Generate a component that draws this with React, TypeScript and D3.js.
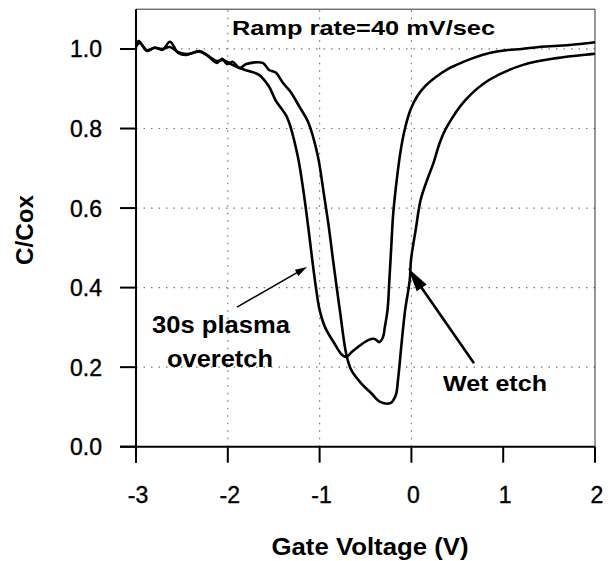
import React from "react";
import * as d3 from "d3";

const W = 612;
const H = 561;

// Gate voltage (V) / C/Cox for the 30s plasma overetch sample
const plasmaV = [-3.0, -2.97, -2.88, -2.8, -2.72, -2.63, -2.54, -2.45, -2.31, -2.23, -2.12, -2.05, -1.95, -1.87, -1.78, -1.66, -1.55, -1.48, -1.4, -1.35, -1.24, -1.17, -1.12, -1.08, -1.04, -1.0, -0.94, -0.84, -0.76, -0.71, -0.65, -0.58, -0.47, -0.4, -0.35, -0.31, -0.29, -0.26, -0.24, -0.22, -0.2, -0.17, -0.12, -0.07, -0.01, 0.06, 0.14, 0.27, 0.4, 0.49, 0.67, 0.85, 1.03, 1.2, 1.39, 1.6, 1.8, 2.0];
const plasmaC = [1.01, 1.02, 0.995, 1.003, 1.0, 1.005, 0.992, 0.987, 0.993, 0.985, 0.97, 0.972, 0.96, 0.952, 0.945, 0.935, 0.905, 0.871, 0.845, 0.826, 0.733, 0.633, 0.545, 0.47, 0.4, 0.344, 0.3, 0.26, 0.232, 0.226, 0.238, 0.251, 0.268, 0.271, 0.263, 0.275, 0.3, 0.344, 0.419, 0.5, 0.58, 0.65, 0.74, 0.8, 0.847, 0.88, 0.904, 0.93, 0.95, 0.96, 0.977, 0.99, 0.997, 1.0, 1.005, 1.008, 1.012, 1.017];

// Gate voltage (V) / C/Cox for the wet etch sample
const wetV = [-3.0, -2.96, -2.88, -2.79, -2.71, -2.63, -2.54, -2.45, -2.31, -2.23, -2.12, -2.06, -2.01, -1.95, -1.87, -1.8, -1.62, -1.55, -1.475, -1.4, -1.315, -1.22, -1.124, -1.021, -0.952, -0.903, -0.854, -0.78, -0.708, -0.656, -0.55, -0.44, -0.335, -0.225, -0.17, -0.146, -0.107, -0.068, -0.018, -0.004, 0.05, 0.1, 0.17, 0.24, 0.31, 0.386, 0.59, 0.845, 1.216, 1.58, 1.96, 2.0];
const wetC = [1.005, 1.015, 0.997, 1.003, 0.998, 1.018, 0.99, 0.985, 0.995, 0.985, 0.965, 0.975, 0.962, 0.968, 0.952, 0.962, 0.965, 0.947, 0.94, 0.915, 0.892, 0.855, 0.816, 0.733, 0.633, 0.558, 0.47, 0.344, 0.231, 0.193, 0.16, 0.135, 0.112, 0.11, 0.13, 0.168, 0.26, 0.344, 0.419, 0.47, 0.55, 0.62, 0.67, 0.713, 0.765, 0.804, 0.872, 0.922, 0.96, 0.977, 0.987, 0.988];

const xTicks = [-3, -2, -1, 0, 1, 2];
const yTicks = [0, 0.2, 0.4, 0.6, 0.8, 1.0];
const xGrid = [-2, -1, 0];
const yGrid = [0.2, 0.4, 0.6, 0.8, 1.0];

const x = d3.scaleLinear().domain([-3, 2]).range([136, 595]);
const y = d3.scaleLinear().domain([0, 1.1]).range([446.7, 9.2]);

const FONT = "'Liberation Sans', Arial, Helvetica, sans-serif";

function toPts(xs: number[], ys: number[]): [number, number][] {
  return xs.map((v, i) => [v, ys[i]] as [number, number]);
}

const line = d3
  .line<[number, number]>()
  .x((d) => x(d[0]))
  .y((d) => y(d[1]))
  .curve(d3.curveCatmullRom.alpha(0.5));

function Arrow({ x1, y1, x2, y2, width, headLen, headW }: any) {
  const px1 = x(x1), py1 = y(y1), px2 = x(x2), py2 = y(y2);
  const dx = px2 - px1, dy = py2 - py1;
  const L = Math.sqrt(dx * dx + dy * dy);
  const ux = dx / L, uy = dy / L;
  const bx = px2 - ux * headLen, by = py2 - uy * headLen;
  const nx = -uy, ny = ux;
  const head = `M${px2},${py2} L${bx + nx * headW},${by + ny * headW} L${bx - nx * headW},${by - ny * headW} Z`;
  return (
    <g>
      <line x1={px1} y1={py1} x2={bx + ux * 2} y2={by + uy * 2} stroke="#000" strokeWidth={width} />
      <path d={head} fill="#000" />
    </g>
  );
}

export default function App() {
  return (
    <svg width={W} height={H} style={{ position: "absolute", left: 0, top: 0, background: "#fff" }} fontFamily={FONT}>
      <rect x={0} y={0} width={W} height={H} fill="#fff" />
      {/* grid */}
      {xGrid.map((g) => (
        <line key={"xg" + g} x1={x(g)} x2={x(g)} y1={y(0)} y2={y(1.1)} stroke="#777" strokeWidth={1.2} strokeDasharray="1.5,6" />
      ))}
      {yGrid.map((g) => (
        <line key={"yg" + g} x1={x(-3)} x2={x(2)} y1={y(g)} y2={y(g)} stroke="#777" strokeWidth={1.2} strokeDasharray="1.5,6" />
      ))}
      {/* frame */}
      <line x1={x(-3)} x2={x(2)} y1={y(1.1)} y2={y(1.1)} stroke="#333" strokeWidth={1} />
      <line x1={x(2)} x2={x(2)} y1={y(1.1)} y2={y(0)} stroke="#333" strokeWidth={1} />
      <line x1={x(-3)} x2={x(-3)} y1={y(1.1)} y2={y(0) + 16} stroke="#000" strokeWidth={2} />
      <line x1={x(-3) - 16} x2={x(2)} y1={y(0)} y2={y(0)} stroke="#000" strokeWidth={2} />
      {/* ticks */}
      {xTicks.map((t) => (
        <g key={"xt" + t}>
          <line x1={x(t)} x2={x(t)} y1={y(0)} y2={y(0) + 16} stroke="#000" strokeWidth={2} />
          <text x={x(t) + 2} y={503} fontSize={23} textAnchor="middle" fill="#000" stroke="#000" strokeWidth={0.4}>
            {t}
          </text>
        </g>
      ))}
      {yTicks.map((t) => (
        <g key={"yt" + t}>
          <line x1={x(-3) - 16} x2={x(-3)} y1={y(t)} y2={y(t)} stroke="#000" strokeWidth={2} />
          <text x={102} y={y(t) + 8.5} fontSize={23} textAnchor="end" fill="#000" stroke="#000" strokeWidth={0.4}>
            {t.toFixed(1)}
          </text>
        </g>
      ))}
      {/* curves */}
      <path d={line(toPts(plasmaV, plasmaC)) || ""} fill="none" stroke="#000" strokeWidth={2.6} strokeLinejoin="round" />
      <path d={line(toPts(wetV, wetC)) || ""} fill="none" stroke="#000" strokeWidth={2.6} strokeLinejoin="round" />
      {/* annotations */}
      <text x={x(-1.954)} y={y(1.035)} fontSize={21} fontWeight="bold" textLength={263} lengthAdjust="spacingAndGlyphs">
        Ramp rate=40 mV/sec
      </text>
      <Arrow x1={-1.9} y1={0.351} x2={-1.137} y2={0.452} width={1.6} headLen={12} headW={3.5} />
      <Arrow x1={0.682} y1={0.21} x2={-0.037} y2={0.449} width={2.6} headLen={24} headW={6} />
      <text x={x(-2.826)} y={y(0.286)} fontSize={23} fontWeight="bold" textLength={138} lengthAdjust="spacingAndGlyphs">
        30s plasma
      </text>
      <text x={x(-2.662)} y={y(0.2)} fontSize={23} fontWeight="bold" textLength={106} lengthAdjust="spacingAndGlyphs">
        overetch
      </text>
      <text x={x(0.344)} y={y(0.14)} fontSize={22} fontWeight="bold" textLength={104} lengthAdjust="spacingAndGlyphs">
        Wet etch
      </text>
      {/* axis titles */}
      <text x={370} y={555} fontSize={23} fontWeight="bold" textAnchor="middle" textLength={197} lengthAdjust="spacingAndGlyphs">
        Gate Voltage (V)
      </text>
      <text transform="translate(33,230) rotate(-90)" fontSize={23} fontWeight="bold" textAnchor="middle" textLength={70} lengthAdjust="spacingAndGlyphs">
        C/Cox
      </text>
    </svg>
  );
}
